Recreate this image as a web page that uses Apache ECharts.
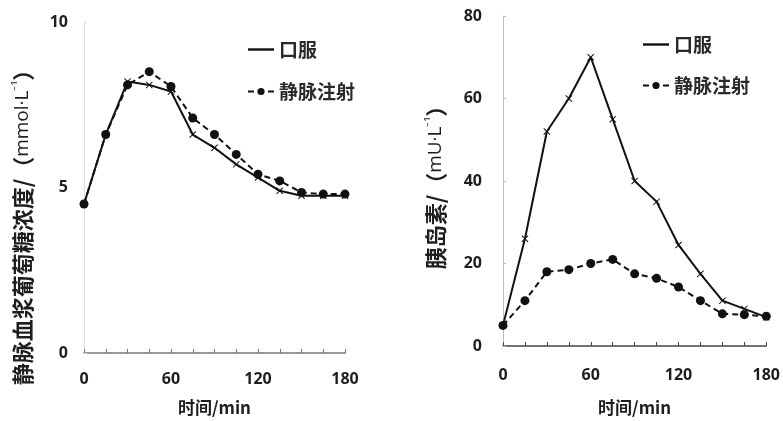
<!DOCTYPE html>
<html>
<head>
<meta charset="utf-8">
<script src="https://cdn.jsdelivr.net/npm/echarts@6/dist/echarts.min.js"></script>
<style>
  html, body { margin: 0; padding: 0; background: #fff; }
  #chart { width: 783px; height: 421px; }
</style>
</head>
<body>
<div id="chart"></div>
<script>
// Sampling times (min)
const times = [0, 15, 30, 45, 60, 75, 90, 105, 120, 135, 150, 165, 180];
const xTicks = [0, 60, 120, 180];

// Plasma glucose (mmol/L)
const glucoseOral = [4.5, 6.6, 8.2, 8.1, 7.9, 6.6, 6.2, 5.7, 5.3, 4.9, 4.75, 4.75, 4.75];
const glucoseIV   = [4.5, 6.6, 8.1, 8.5, 8.05, 7.1, 6.6, 6.0, 5.4, 5.2, 4.85, 4.8, 4.8];

// Insulin (mU/L)
const insulinOral = [5, 26, 52, 60, 70, 55, 40, 35, 24.5, 17.5, 11, 9, 7];
const insulinIV   = [5, 11, 18, 18.5, 20, 21, 17.5, 16.4, 14.3, 11, 7.8, 7.6, 7.2];

const seriesNames = ['口服', '静脉注射'];
const xName = '时间/min';
const yNameLeft = ['静脉血浆葡萄糖浓度/（', 'mmol·L', '⁻¹', '）'];
const yNameRight = ['胰岛素/（', 'mU·L', '⁻¹', '）'];

const ink = '#111';
const textInk = '#1e1e1e';
const cjkFont = '"Noto Sans CJK SC", sans-serif';
const numFont = '"Open Sans", "Liberation Sans", sans-serif';
const crossPath = 'path://M0,1L1,0L5,4L9,0L10,1L6,5L10,9L9,10L5,6L1,10L0,9L4,5Z';

const pairs = (vals) => times.map((t, i) => [t, vals[i]]);

function xAxisFor(gridIndex, labelMargin, nameGap, lineColor) {
  return {
    type: 'value', gridIndex, min: 0, max: 180, interval: 15,
    name: xName, nameLocation: 'middle', nameGap,
    nameTextStyle: { fontFamily: cjkFont, fontSize: 17, fontWeight: 'bold', color: textInk },
    axisLine: { lineStyle: { color: lineColor, width: 1.5 } },
    axisTick: { inside: true, length: 4, lineStyle: { color: lineColor } },
    splitLine: { show: false },
    axisLabel: {
      margin: labelMargin, fontFamily: numFont, fontSize: 16, fontWeight: 'bold', color: textInk,
      formatter: (v) => (xTicks.includes(v) ? String(v) : '')
    }
  };
}

function yAxisFor(gridIndex, max, interval, labelMargin, lineColor) {
  return {
    type: 'value', gridIndex, min: 0, max, interval,
    axisLine: { show: true, lineStyle: { color: lineColor, width: 1 } },
    axisTick: { show: true, inside: true, length: 3, lineStyle: { color: lineColor } },
    splitLine: { show: false },
    axisLabel: { margin: labelMargin, fontFamily: numFont, fontSize: 16, fontWeight: 'bold', color: textInk }
  };
}

function oralSeries(xi, data) {
  return {
    name: seriesNames[0], type: 'line', xAxisIndex: xi, yAxisIndex: xi,
    data: pairs(data), symbol: crossPath, symbolSize: 7,
    lineStyle: { color: ink, width: 2 }, itemStyle: { color: ink },
    z: 3, animation: false
  };
}

function ivSeries(xi, data) {
  return {
    name: seriesNames[1], type: 'line', xAxisIndex: xi, yAxisIndex: xi,
    data: pairs(data), symbol: 'circle', symbolSize: 9,
    lineStyle: { color: ink, width: 2, type: [6, 4] }, itemStyle: { color: ink },
    z: 2, animation: false
  };
}

function legendAt(left, top, gap) {
  return {
    left, top, orient: 'vertical', itemGap: gap, itemWidth: 26, itemHeight: 9,
    textStyle: { fontFamily: cjkFont, fontSize: 19, fontWeight: 'bold', color: '#2a2a2a' },
    data: [
      { name: seriesNames[0], icon: 'path://M0,0H26V2.4H0Z' },
      { name: seriesNames[1] }
    ],
    selectedMode: false
  };
}

// Rotated axis title: CJK in the CJK face, units in a Latin face with a raised exponent
function yTitle(parts, x, y) {
  return {
    type: 'text', x, y, rotation: Math.PI / 2,
    style: {
      text: '{c|' + parts[0] + '}{l|' + parts[1] + '}{s|' + parts[2] + '}{c|' + parts[3] + '}',
      align: 'center', verticalAlign: 'middle',
      rich: {
        c: { fontFamily: cjkFont, fontSize: 22, fontWeight: 'bold', fill: textInk },
        l: { fontFamily: numFont, fontSize: 19, fill: textInk },
        s: { fontFamily: numFont, fontSize: 14, fill: textInk, padding: [0, 0, 8, 0] }
      }
    }
  };
}

const chart = echarts.init(document.getElementById('chart'), null, { renderer: 'canvas' });
chart.setOption({
  backgroundColor: '#fff',
  animation: false,
  grid: [
    { left: 84, top: 22, width: 261, height: 336 },
    { left: 503, top: 16, width: 264, height: 333 }
  ],
  xAxis: [xAxisFor(0, 18, 46, '#777'), xAxisFor(1, 21, 53, '#444')],
  yAxis: [yAxisFor(0, 10, 5, 16, '#ddd'), yAxisFor(1, 80, 20, 21, '#bbb')],
  legend: [legendAt(242, 35, 23), legendAt(637, 30, 22)],
  series: [
    oralSeries(0, glucoseOral), ivSeries(0, glucoseIV),
    oralSeries(1, insulinOral), ivSeries(1, insulinIV)
  ],
  graphic: [
    yTitle(yNameLeft, 23, 222),
    yTitle(yNameRight, 436, 182)
  ]
});
</script>
</body>
</html>
